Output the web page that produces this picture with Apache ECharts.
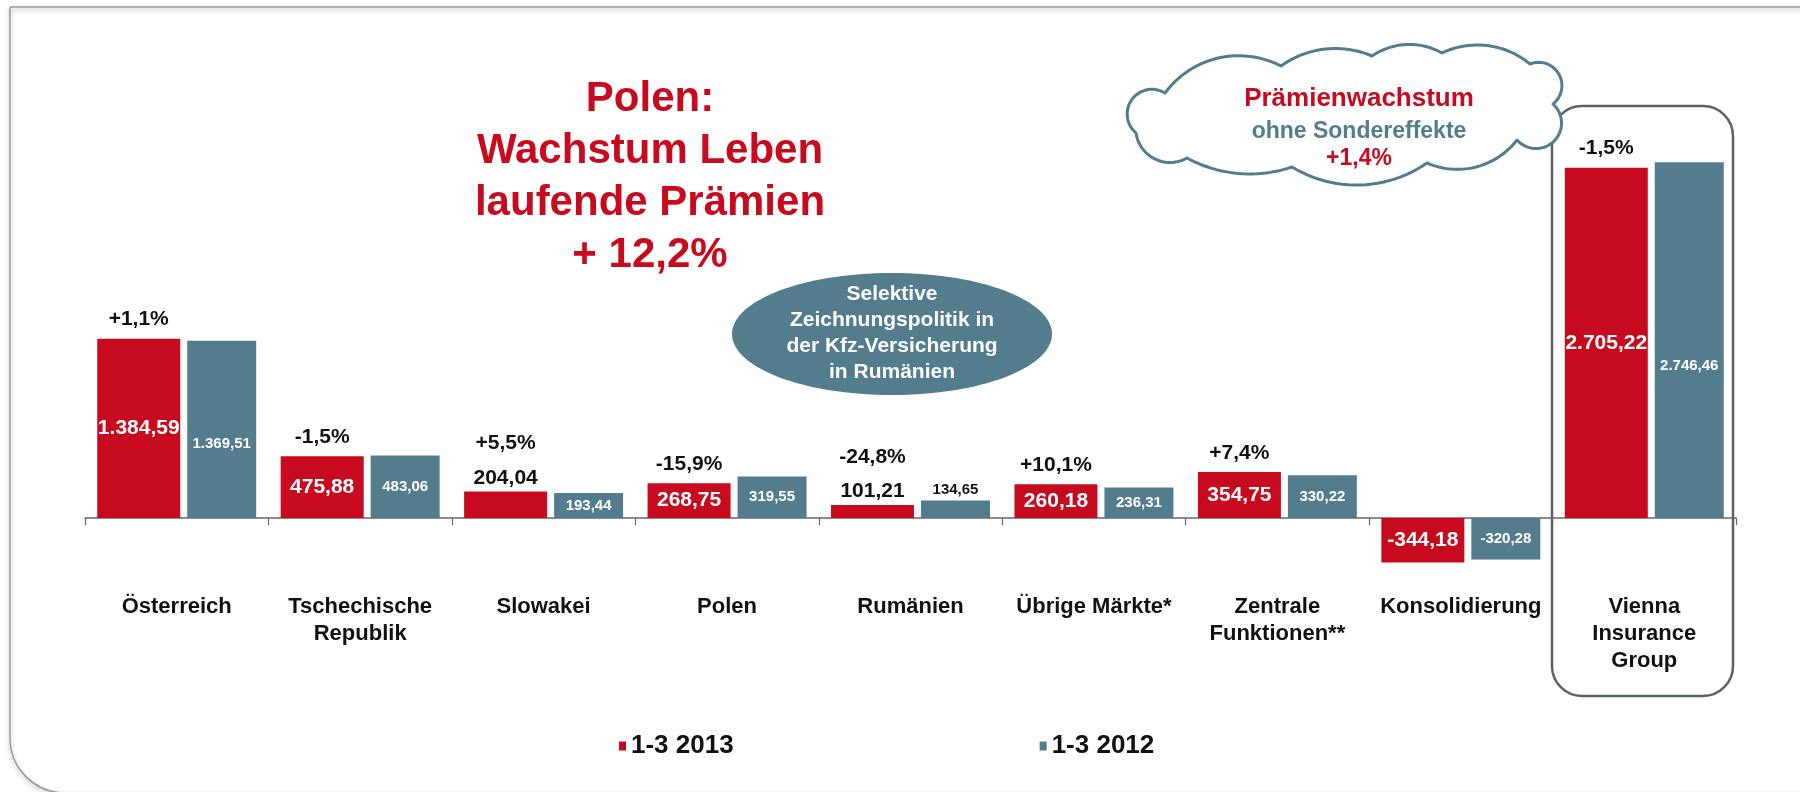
<!DOCTYPE html>
<html>
<head>
<meta charset="utf-8">
<script src="https://cdn.jsdelivr.net/npm/echarts@6/dist/echarts.min.js"></script>
<style>
  html, body { margin: 0; padding: 0; background: #fff; }
  #chart { width: 1800px; height: 792px; }
</style>
</head>
<body>
<div id="chart"></div>
<script>
// Daten (Mio. EUR), Q1 2013 vs. Q1 2012
const categories = ['Österreich', 'Tschechische\nRepublik', 'Slowakei', 'Polen', 'Rumänien',
  'Übrige Märkte*', 'Zentrale\nFunktionen**', 'Konsolidierung', 'Vienna\nInsurance\nGroup'];
const q1_2013 = [1384.59, 475.88, 204.04, 268.75, 101.21, 260.18, 354.75, -344.18, 2705.22];
const q1_2012 = [1369.51, 483.06, 193.44, 319.55, 134.65, 236.31, 330.22, -320.28, 2746.46];
const pctChange = ['+1,1%', '-1,5%', '+5,5%', '-15,9%', '-24,8%', '+10,1%', '+7,4%', '', '-1,5%'];
const seriesNames = ['1-3 2013', '1-3 2012'];

const RED = '#C80A1E';
const BLUE = '#537C8C';
const FONT = '"Liberation Sans", Arial, sans-serif';
const RED_W = 83, BLUE_W = 69, GAP = 7;

// wo das Label sitzt (Stil, keine Daten)
const redLabelPos = ['inside', 'inside', 'top', 'inside', 'top', 'inside', 'inside', 'inside', 'inside'];
const blueLabelPos = ['inside', 'inside', 'inside', 'inside', 'top', 'inside', 'inside', 'inside', 'inside'];
const blueLabelShift = [15, 0, 0, 0, 0, 0, 0, 0, 26];

function fmtDe(v) {
  let [int, dec] = Math.abs(v).toFixed(2).split('.');
  int = int.replace(/\B(?=(\d{3})+(?!\d))/g, '.');
  return (v < 0 ? '-' : '') + int + ',' + dec;
}

// Wolke: Bögen zwischen Stützpunkten, als Polygon abgetastet
function cloudPoints() {
  const pts = [[1165, 93], [1281, 66], [1372, 56], [1442, 53], [1530, 64], [1553, 104],
    [1517, 140], [1427, 163], [1292, 167], [1187, 158], [1136, 133]];
  const bulge = [22, 12, 10, 13, 20, 27, 16, 20, 11, 15, 23];
  const out = [];
  for (let i = 0; i < pts.length; i++) {
    const a = pts[i], b = pts[(i + 1) % pts.length];
    const dx = b[0] - a[0], dy = b[1] - a[1];
    const c = Math.hypot(dx, dy);
    const s = bulge[i];
    const r = (c * c / 4 + s * s) / (2 * s);
    const nx = dy / c, ny = -dx / c;
    const mx = (a[0] + b[0]) / 2, my = (a[1] + b[1]) / 2;
    const cx = mx - nx * (r - s), cy = my - ny * (r - s);
    const angA = Math.atan2(a[1] - cy, a[0] - cx);
    const angB = Math.atan2(b[1] - cy, b[0] - cx);
    let delta = angB - angA;
    while (delta < 0) delta += Math.PI * 2;
    const steps = 24;
    for (let k = 0; k < steps; k++) {
      const ang = angA + delta * k / steps;
      out.push([cx + r * Math.cos(ang), cy + r * Math.sin(ang)]);
    }
  }
  return out;
}

function txt(text, x, y, font, fill, lineHeight, z) {
  return {
    type: 'text', x: x, y: y, z: z || 20, silent: true,
    style: {
      text: text, font: font, fill: fill, lineHeight: lineHeight,
      align: 'center', verticalAlign: 'middle',
      textAlign: 'center', textVerticalAlign: 'middle'
    }
  };
}

const chart = echarts.init(document.getElementById('chart'), null, { renderer: 'canvas' });

const redOffset = -(RED_W + GAP + BLUE_W) / 2 + RED_W / 2;

chart.setOption({
  animation: false,
  backgroundColor: '#fff',
  textStyle: { fontFamily: FONT },
  // Null liegt bei y≈518, Rasterunterkante bei y≈583
  grid: { left: 85, right: 64, top: 129.5, bottom: 209.25, outerBoundsMode: 'none', containLabel: false },
  legend: {
    data: seriesNames,
    left: 614, top: 728,
    icon: 'rect', itemWidth: 7, itemHeight: 9, itemGap: 306,
    textStyle: { fontSize: 26, fontWeight: 'bold', color: '#111', fontFamily: FONT }
  },
  xAxis: [
    {
      // Achsenlinie mit Strichen auf der Nulllinie
      type: 'category',
      data: categories,
      axisLine: { onZero: true, lineStyle: { color: '#666', width: 1.5 } },
      axisTick: { show: true, length: 7, lineStyle: { color: '#666', width: 1.2 } },
      axisLabel: { show: false }
    },
    {
      // Kategorienamen an der Unterkante
      type: 'category',
      data: categories,
      position: 'bottom',
      axisLine: { show: false, onZero: false },
      axisTick: { show: false },
      axisLabel: {
        interval: 0, margin: 11, color: '#111', fontSize: 22, fontWeight: 'bold',
        lineHeight: 27, fontFamily: FONT
      }
    }
  ],
  yAxis: {
    type: 'value', min: -500, max: 3000, show: false,
    splitLine: { show: false }
  },
  series: [
    {
      name: seriesNames[0], type: 'bar', barWidth: RED_W, barGap: (GAP / RED_W * 100).toFixed(1) + '%',
      itemStyle: { color: RED },
      data: q1_2013.map((v, i) => ({
        value: v,
        label: redLabelPos[i] === 'top'
          ? { show: true, position: 'top', distance: 3, color: '#111', fontSize: 21, fontWeight: 'bold', formatter: p => fmtDe(p.value) }
          : { show: true, position: 'inside', color: '#fff', fontSize: 21, fontWeight: 'bold', formatter: p => fmtDe(p.value) }
      }))
    },
    {
      name: seriesNames[1], type: 'bar', barWidth: BLUE_W,
      itemStyle: { color: BLUE },
      data: q1_2012.map((v, i) => ({
        value: v,
        label: blueLabelPos[i] === 'top'
          ? { show: true, position: 'top', distance: 3, color: '#111', fontSize: 15, fontWeight: 'bold', formatter: p => fmtDe(p.value) }
          : { show: true, position: 'inside', offset: [0, blueLabelShift[i]], color: '#fff', fontSize: 15, fontWeight: 'bold', formatter: p => fmtDe(p.value) }
      }))
    },
    {
      name: 'Veränderung', type: 'custom', silent: true, z: 5,
      data: q1_2013.map((v, i) => [i, v]),
      encode: { x: 0, y: 1 },
      renderItem: function (params, api) {
        const i = api.value(0);
        const t = pctChange[i];
        if (!t) return null;
        const pt = api.coord([i, api.value(1)]);
        const up = redLabelPos[i] === 'top' ? 48 : 19;
        return {
          type: 'text', x: pt[0] + redOffset, y: pt[1] - up,
          style: {
            text: t, font: 'bold 21px ' + FONT, fill: '#111',
            align: 'center', verticalAlign: 'middle',
            textAlign: 'center', textVerticalAlign: 'middle'
          }
        };
      }
    }
  ],
  graphic: [
    // Folienrahmen
    {
      type: 'rect', z: 0, silent: true,
      shape: { x: 10, y: 7, width: 1900, height: 786, r: [0, 0, 0, 55] },
      style: { fill: 'none', stroke: '#9a9a9a', lineWidth: 1.5, shadowBlur: 5, shadowOffsetY: 2, shadowColor: 'rgba(0,0,0,0.35)' }
    },
    // Kasten um Vienna Insurance Group
    {
      type: 'rect', z: 1, silent: true,
      shape: { x: 1552, y: 106, width: 181, height: 590, r: 30 },
      style: { fill: 'none', stroke: '#5A6266', lineWidth: 2.5 }
    },
    txt('Polen:\nWachstum Leben\nlaufende Prämien\n+ 12,2%', 650, 177.5, 'bold 42px ' + FONT, RED, 52),
    {
      type: 'ellipse', z: 5, silent: true,
      shape: { cx: 892, cy: 334, rx: 160, ry: 61 },
      style: { fill: BLUE }
    },
    txt('Selektive\nZeichnungspolitik in\nder Kfz-Versicherung\nin Rumänien', 892, 333, 'bold 21px ' + FONT, '#fff', 26),
    {
      type: 'polygon', z: 10, silent: true,
      shape: { points: cloudPoints() },
      style: { fill: '#fff', stroke: BLUE, lineWidth: 3, lineJoin: 'round' }
    },
    txt('Prämienwachstum', 1359, 99, 'bold 26px ' + FONT, RED, 30),
    txt('ohne Sondereffekte', 1359, 132, 'bold 23px ' + FONT, BLUE, 26),
    txt('+1,4%', 1359, 159, 'bold 23px ' + FONT, RED, 26)
  ]
});
</script>
</body>
</html>
